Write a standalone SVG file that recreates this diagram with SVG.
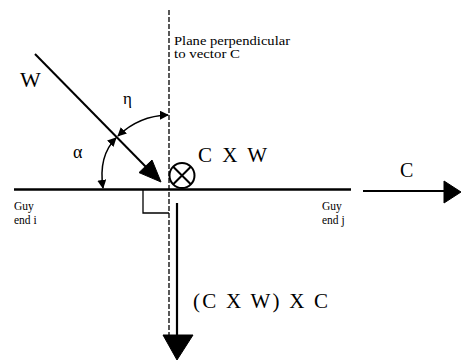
<svg xmlns="http://www.w3.org/2000/svg" width="461" height="361" viewBox="0 0 461 361">
<style>
.ln{stroke:#000;fill:none}
.hd{fill:#000;stroke:#000;stroke-width:1;stroke-linejoin:miter}
</style>
<defs>
<marker id="ah" viewBox="0 0 10 10" refX="9" refY="5" markerWidth="9" markerHeight="9" markerUnits="userSpaceOnUse" orient="auto-start-reverse">
<path d="M0,0 L10,5 L0,10 Z" fill="#000"/>
</marker>
</defs>
<rect width="461" height="361" fill="#fff"/>
<g id="connectors">
<line id="plane" class="ln" x1="169" y1="10" x2="169" y2="342" stroke-width="1.3" stroke-dasharray="5,2"/>
<line id="guy" class="ln" x1="14" y1="189.5" x2="351" y2="189.5" stroke-width="2.5"/>
<line id="cvec" class="ln" x1="363" y1="191" x2="446" y2="191" stroke-width="1.8"/>
<polygon class="hd" points="444,181 461,192 444,203"/>
<line id="wvec" class="ln" x1="35" y1="54" x2="147" y2="168" stroke-width="2"/>
<polygon class="hd" points="161,182 139,172.6 152,160"/>
<line id="cxwxc" class="ln" x1="177" y1="203" x2="177" y2="336" stroke-width="2.2"/>
<polygon class="hd" points="163,335 193,335 177,360"/>
<polyline id="rightangle" class="ln" points="143,189 143,213 169,213" stroke-width="1.3"/>
<path id="eta-arc" class="ln" d="M168,115 A75,75 0 0 0 118,136" stroke-width="1.5" marker-start="url(#ah)" marker-end="url(#ah)"/>
<path id="alpha-arc" class="ln" d="M116,138 C104,150 100,168 103,188" stroke-width="1.5" marker-start="url(#ah)" marker-end="url(#ah)"/>
</g>
<g id="cxw-symbol">
<circle class="ln" cx="182" cy="175.5" r="12.5" stroke-width="2"/>
<line class="ln" x1="173.2" y1="166.7" x2="190.8" y2="184.3" stroke-width="2"/>
<line class="ln" x1="190.8" y1="166.7" x2="173.2" y2="184.3" stroke-width="2"/>
</g>
<g id="labels" font-family="Liberation Serif, DejaVu Serif, serif" fill="#000">
<text x="20" y="87" font-size="22">W</text>
<text x="123" y="104" font-size="17">η</text>
<text x="73" y="158" font-size="18">α</text>
<text x="198" y="162" font-size="21" textLength="69" lengthAdjust="spacing">C X W</text>
<text x="400" y="177" font-size="20">C</text>
<text x="193" y="308" font-size="21" textLength="135" lengthAdjust="spacing">(C X W) X C</text>
<text x="174" y="45" font-size="11.5" textLength="116" lengthAdjust="spacingAndGlyphs">Plane perpendicular</text>
<text x="174" y="58" font-size="11.5" textLength="66" lengthAdjust="spacingAndGlyphs">to vector C</text>
<text x="14" y="210" font-size="11.5">Guy</text>
<text x="14" y="224" font-size="11.5">end i</text>
<text x="322" y="210" font-size="11.5">Guy</text>
<text x="322" y="224" font-size="11.5">end j</text>
</g>
</svg>
